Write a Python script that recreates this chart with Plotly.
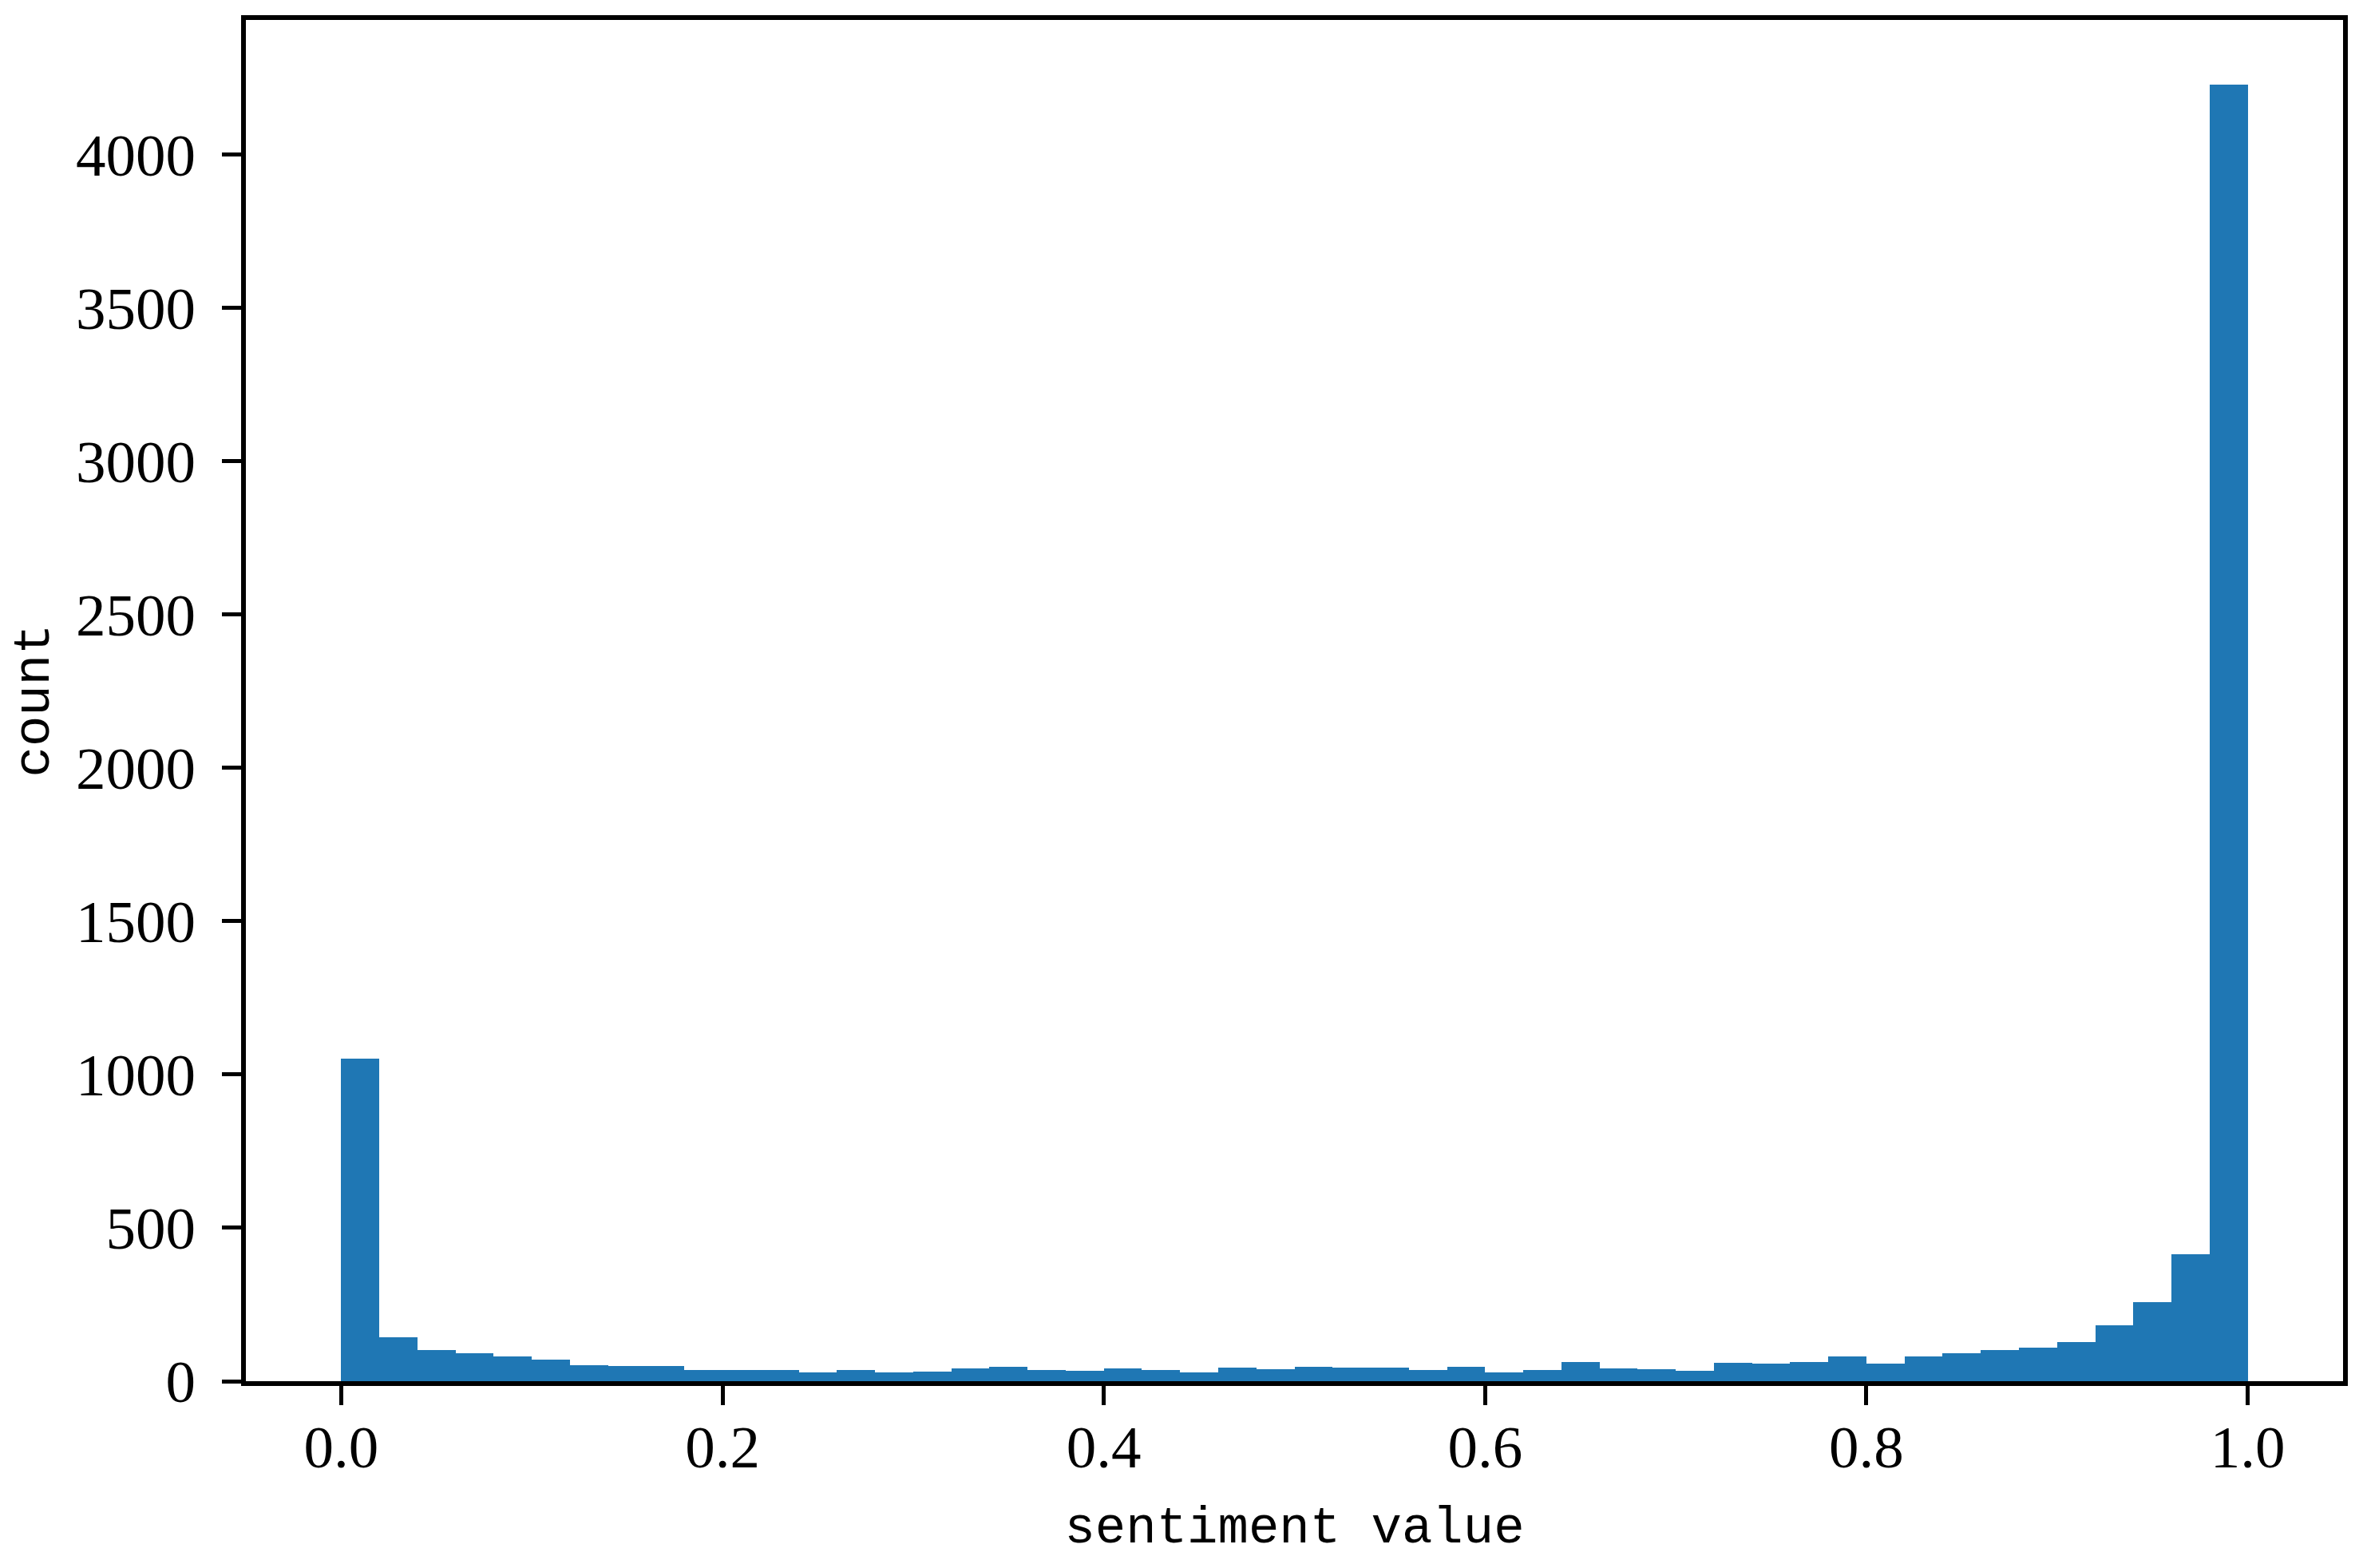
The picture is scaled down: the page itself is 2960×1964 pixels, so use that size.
import plotly.graph_objects as go

# histogram: 50 equal bins on [0, 1]
bin_start = 0.0
bin_size = 0.02
counts = [1051, 143, 101, 90, 80, 70, 51, 49, 49, 36,
          37, 36, 28, 36, 28, 32, 41, 46, 37, 35,
          41, 37, 28, 45, 40, 46, 45, 45, 37, 46,
          28, 36, 62, 42, 39, 33, 61, 56, 62, 81,
          58, 81, 90, 101, 110, 127, 182, 258, 415, 4228]
centers = [bin_start + bin_size * (i + 0.5) for i in range(len(counts))]

x_ticks = [0.0, 0.2, 0.4, 0.6, 0.8, 1.0]
x_tick_text = ["0.0", "0.2", "0.4", "0.6", "0.8", "1.0"]
y_ticks = [0, 500, 1000, 1500, 2000, 2500, 3000, 3500, 4000]

fig = go.Figure(go.Bar(
    x=centers, y=counts, width=bin_size,
    marker=dict(color="#1f77b4", line=dict(width=0)),
))

tick_font = dict(family="Liberation Serif", size=75, color="black")
title_font = dict(family="Liberation Mono", size=64, color="black")

fig.update_layout(
    width=2952, height=1956,
    margin=dict(l=300, r=25, t=17, b=234),
    paper_bgcolor="white", plot_bgcolor="white",
    bargap=0, showlegend=False,
)
fig.update_xaxes(
    range=[-0.05, 1.05], tickvals=x_ticks, ticktext=x_tick_text,
    showline=True, linecolor="black", linewidth=6, mirror=True,
    ticks="outside", ticklen=24, tickwidth=5, tickcolor="black",
    showgrid=False, zeroline=False, tickfont=tick_font,
    ticklabelstandoff=-12, automargin=True,
    title=dict(text="sentiment value", font=title_font, standoff=36),
)
fig.update_yaxes(
    range=[0, 4439], tickvals=y_ticks,
    showline=True, linecolor="black", linewidth=6, mirror=True,
    ticks="outside", ticklen=24, tickwidth=5, tickcolor="black",
    showgrid=False, zeroline=False, tickfont=tick_font,
    ticklabelstandoff=18, automargin=False,
    title=dict(text="count", font=title_font, standoff=36),
)

fig.write_html("out.html")
